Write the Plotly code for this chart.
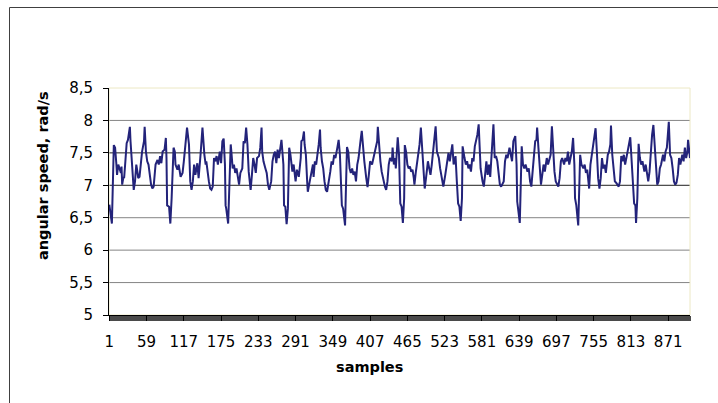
import plotly.graph_objects as go

# sample index (category) and angular speed
samples = [1, 5, 8, 10, 12, 13, 15, 17, 19, 20, 21, 23, 24, 26, 28, 30, 33, 34, 36, 38, 39, 41, 43, 45, 46, 48, 50, 52, 55, 56, 58, 60, 62, 64, 66, 68, 70, 73, 76, 78, 80, 82, 84, 87, 89, 90, 91, 94, 96, 98,
           101, 103, 104, 107, 109, 112, 115, 117, 120, 122, 125, 127, 129, 131, 133, 135, 138, 140, 143, 146,
           149, 151, 152, 154, 156, 158, 160, 162, 164, 166, 168, 170, 172, 173, 175, 177, 179, 181, 182, 183, 186, 187, 190, 191, 193, 195, 197, 199,
           201, 203, 205, 208, 210, 212, 214, 216, 218, 221, 223, 225, 227, 229, 231, 234, 236, 238, 239, 241, 244, 246, 248, 250, 253, 255, 257, 259,
           261, 263, 265, 267, 269, 272, 273, 275, 277, 279, 281, 283, 286, 288, 291, 293, 296,
           299, 300, 302, 304, 305, 307, 309, 310, 313, 314, 316, 318, 319, 321, 323, 325, 327, 329, 330, 332, 334, 336, 338, 340, 343, 345, 347, 349,
           351, 353, 356, 358, 360, 362, 363, 365, 368, 369, 371, 373, 375, 377, 379, 381, 383, 385, 387, 389, 391, 392, 394, 396, 398,
           401, 403, 405, 407, 410, 412, 415, 418, 419, 421, 423, 425, 428, 430, 432, 434, 436, 438,
           441, 442, 444, 446, 447, 449, 450, 452, 453, 454, 456, 458, 460, 461, 463, 465, 467, 469, 471, 473, 475, 476, 478, 480, 482, 484, 486, 488, 490, 492, 494, 497, 499,
           501, 503, 505, 507, 509, 511, 514, 516, 519, 521, 524, 527, 529, 531, 533, 535, 537, 540, 542, 544, 546, 548, 550, 551, 554, 556, 558, 560, 562, 564, 566, 568, 570, 572, 574, 576, 577, 579, 582, 584, 586, 588,
           590, 592, 594, 596, 598, 599, 601, 603, 605, 607, 609, 611, 613, 615, 617, 619, 621, 624, 626, 628, 630, 632, 633, 635, 636, 638, 640, 641, 643, 645, 647, 649,
           652, 654, 656, 658, 660, 662, 664, 666, 667, 669, 671, 673, 675, 677, 679, 682, 684, 686, 688, 690, 692, 694, 696, 698, 700, 702, 704, 706, 709, 711, 713, 715, 717, 719,
           721, 723, 725, 726, 728, 731, 732, 734, 736, 739, 741,
           743, 745, 748, 750, 752, 754, 756, 758, 760, 762, 764, 766, 768, 770, 772, 774, 777, 779, 781, 782, 784, 786, 788, 790, 792, 794, 796, 798,
           800, 802, 804, 807, 809, 812, 814, 816, 818, 820, 821, 823, 825, 827, 829, 831, 834, 836, 838, 840, 842, 844, 846, 848, 850, 852, 854, 856, 858,
           860, 863, 865, 867, 869, 871, 872, 874, 876, 878, 880, 882, 884, 886, 888, 890, 893, 895, 897, 899, 901, 902, 904, 905]

speed = [6.70, 6.41, 7.62, 7.58, 7.32, 7.16, 7.32, 7.26, 7.19, 7.29, 7.01, 7.13, 7.11, 7.37, 7.65, 7.70, 7.90, 7.68, 7.37, 7.06, 6.93, 7.06, 7.32, 7.19, 7.11, 7.13, 7.32, 7.52, 7.68, 7.90, 7.52, 7.37, 7.32, 7.16, 7.01, 6.95, 6.98, 7.32, 7.39, 7.32, 7.45, 7.34, 7.52, 7.55, 7.73, 7.42, 6.69, 6.67, 6.41, 6.80,
         7.58, 7.52, 7.32, 7.24, 7.32, 7.13, 7.19, 7.37, 7.68, 7.89, 7.63, 7.06, 6.93, 7.06, 7.32, 7.16, 7.34, 7.11, 7.47, 7.89,
         7.47, 7.32, 7.37, 7.19, 7.06, 6.95, 6.93, 6.98, 7.42, 7.37, 7.45, 7.32, 7.42, 7.52, 7.34, 7.68, 7.72, 7.32, 6.69, 6.64, 6.41, 6.80, 7.63, 7.52, 7.26, 7.32, 7.19, 7.26,
         7.11, 7.01, 7.19, 7.26, 7.68, 7.65, 7.89, 7.63, 7.21, 6.93, 7.16, 7.42, 7.32, 7.19, 7.42, 7.45, 7.58, 7.89, 7.52, 7.37, 7.26, 7.19, 7.01, 6.93, 7.06, 7.37, 7.47, 7.52,
         7.34, 7.55, 7.42, 7.60, 7.70, 7.32, 6.69, 6.67, 6.40, 6.64, 7.58, 7.47, 7.21, 7.32, 7.06, 7.24, 7.13,
         7.42, 7.68, 7.70, 7.83, 7.63, 7.47, 7.06, 6.90, 7.06, 7.11, 7.21, 7.32, 7.13, 7.37, 7.32, 7.47, 7.63, 7.86, 7.58, 7.37, 7.26, 7.06, 6.93, 6.90, 7.06, 7.21, 7.37, 7.32,
         7.47, 7.42, 7.58, 7.70, 7.47, 7.06, 6.69, 6.64, 6.38, 6.80, 7.59, 7.52, 7.26, 7.19, 7.26, 7.16, 7.21, 7.06, 7.32, 7.42, 7.65, 7.68, 7.84, 7.58, 7.37,
         7.11, 6.97, 7.16, 7.37, 7.32, 7.42, 7.58, 7.68, 7.90, 7.58, 7.37, 7.21, 7.06, 6.98, 6.93, 7.06, 7.32, 7.42,
         7.37, 7.58, 7.32, 7.42, 7.26, 7.52, 7.74, 7.47, 7.06, 6.72, 6.67, 6.42, 6.80, 7.62, 7.52, 7.32, 7.26, 7.29, 7.21, 7.24, 7.11, 7.01, 7.19, 7.32, 7.52, 7.63, 7.89, 7.58, 7.16, 6.95, 7.11, 7.37, 7.26,
         7.16, 7.32, 7.52, 7.68, 7.91, 7.52, 7.42, 7.26, 7.06, 6.98, 7.16, 7.42, 7.50, 7.37, 7.52, 7.63, 7.32, 7.45, 7.06, 6.72, 6.67, 6.45, 6.80, 7.60, 7.42, 7.32, 7.37, 7.26, 7.32, 7.21, 7.42, 7.37, 7.60, 7.68, 7.78, 7.94, 7.68, 7.26, 7.06, 6.98, 7.16, 7.37,
         7.16, 7.32, 7.13, 7.47, 7.68, 7.94, 7.42, 7.45, 7.37, 7.21, 7.01, 6.98, 7.01, 7.06, 7.37, 7.47, 7.42, 7.58, 7.47, 7.37, 7.68, 7.73, 7.76, 7.32, 6.75, 6.59, 6.42, 6.80, 7.60, 7.32, 7.26, 7.32,
         7.21, 7.26, 7.06, 6.98, 7.19, 7.37, 7.68, 7.70, 7.89, 7.58, 7.32, 7.01, 7.16, 7.32, 7.21, 7.42, 7.32, 7.42, 7.47, 7.91, 7.47, 7.21, 7.06, 7.01, 6.98, 7.11, 7.37, 7.42, 7.32, 7.42, 7.37, 7.52, 7.32, 7.42,
         7.52, 7.73, 7.32, 6.80, 6.69, 6.38, 6.74, 7.47, 7.32, 7.26, 7.32,
         7.19, 7.24, 6.95, 7.32, 7.47, 7.58, 7.73, 7.88, 7.52, 7.11, 6.95, 7.11, 7.42, 7.26, 7.32, 7.19, 7.47, 7.52, 7.63, 7.92, 7.47, 7.26, 7.06, 7.04, 7.01, 6.98, 7.06, 7.45,
         7.37, 7.47, 7.32, 7.52, 7.58, 7.74, 7.42, 7.06, 6.72, 6.69, 6.42, 6.80, 7.64, 7.42, 7.32, 7.37, 7.21, 7.32, 7.19, 7.06, 7.21, 7.52, 7.78, 7.93, 7.63, 7.26, 7.01, 7.06, 7.26,
         7.32, 7.47, 7.37, 7.52, 7.58, 7.78, 7.98, 7.47, 7.42, 7.26, 7.06, 7.01, 7.04, 7.16, 7.42, 7.32, 7.47, 7.37, 7.58, 7.42, 7.52, 7.70, 7.45, 7.42]

x_tick_vals = [1, 59, 117, 175, 233, 291, 349, 407, 465, 523, 581, 639, 697, 755, 813, 871]
y_tick_vals = [5, 5.5, 6, 6.5, 7, 7.5, 8, 8.5]
y_tick_text = ["5", "5,5", "6", "6,5", "7", "7,5", "8", "8,5"]
n_samples = 905
x_title = "samples"
y_title = "angular speed, rad/s"

FONT = "DejaVu Sans"

fig = go.Figure()
fig.add_trace(go.Scatter(x=samples, y=speed, mode="lines",
                         line=dict(color="#23237a", width=2), hoverinfo="skip"))

shapes = []
# horizontal gridlines
for v in y_tick_vals[1:-1]:
    col = "#1e1e1e" if v in (7, 7.5) else "#858585"
    shapes.append(dict(type="line", xref="paper", yref="y", x0=0, x1=1, y0=v, y1=v,
                       line=dict(color=col, width=1), layer="below"))
# plot-area border (light)
shapes.append(dict(type="rect", xref="paper", yref="paper", x0=0, x1=1, y0=0, y1=1,
                   line=dict(color="#ece8c4", width=1), layer="below"))
# outer chart frame
shapes.append(dict(type="rect", xref="paper", yref="paper",
                   x0=(9.5 - 109) / 581, x1=1.2, y0=-0.6, y1=(315 - 7.5) / 227,
                   line=dict(color="#404040", width=1), layer="below"))

annotations = [
    dict(text="<b>" + y_title + "</b>", textangle=-90, xref="paper", yref="paper",
         x=(43 - 109) / 581, y=(315 - 176) / 227, xanchor="center", yanchor="middle",
         showarrow=False, font=dict(family=FONT, size=14.5, color="black")),
    dict(text="<b>" + x_title + "</b>", xref="paper", yref="paper",
         x=(369 - 109) / 581, y=(315 - 367) / 227, xanchor="center", yanchor="middle",
         showarrow=False, font=dict(family=FONT, size=14.5, color="black")),
]

fig.update_layout(
    width=718, height=403,
    margin=dict(l=109, r=28, t=88, b=88, pad=0),
    paper_bgcolor="white", plot_bgcolor="white",
    showlegend=False,
    shapes=shapes,
    annotations=annotations,
    font=dict(family=FONT, color="black"),
    xaxis=dict(
        range=[0.5, n_samples], showgrid=False, zeroline=False,
        showline=True, linecolor="black", linewidth=1,
        tickmode="array", tickvals=x_tick_vals, ticktext=[str(v) for v in x_tick_vals],
        ticks="outside", ticklen=5, tickcolor="black", tickwidth=1,
        minor=dict(ticks="outside", ticklen=5, tick0=1, dtick=1, tickcolor="#4a4a4a", tickwidth=1, showgrid=False),
        tickfont=dict(family=FONT, size=15, color="black"),
        ticklabelstandoff=8,
    ),
    yaxis=dict(
        range=[5, 8.5], showgrid=False, zeroline=False,
        showline=True, linecolor="black", linewidth=1,
        tickmode="array", tickvals=y_tick_vals, ticktext=y_tick_text,
        ticks="outside", ticklen=5, tickcolor="black", tickwidth=1,
        tickfont=dict(family=FONT, size=15, color="black"),
        ticklabelstandoff=7,
    ),
)

fig.write_html("out.html", config={"displayModeBar": False},
               post_script="document.body.style.margin='0px';")
